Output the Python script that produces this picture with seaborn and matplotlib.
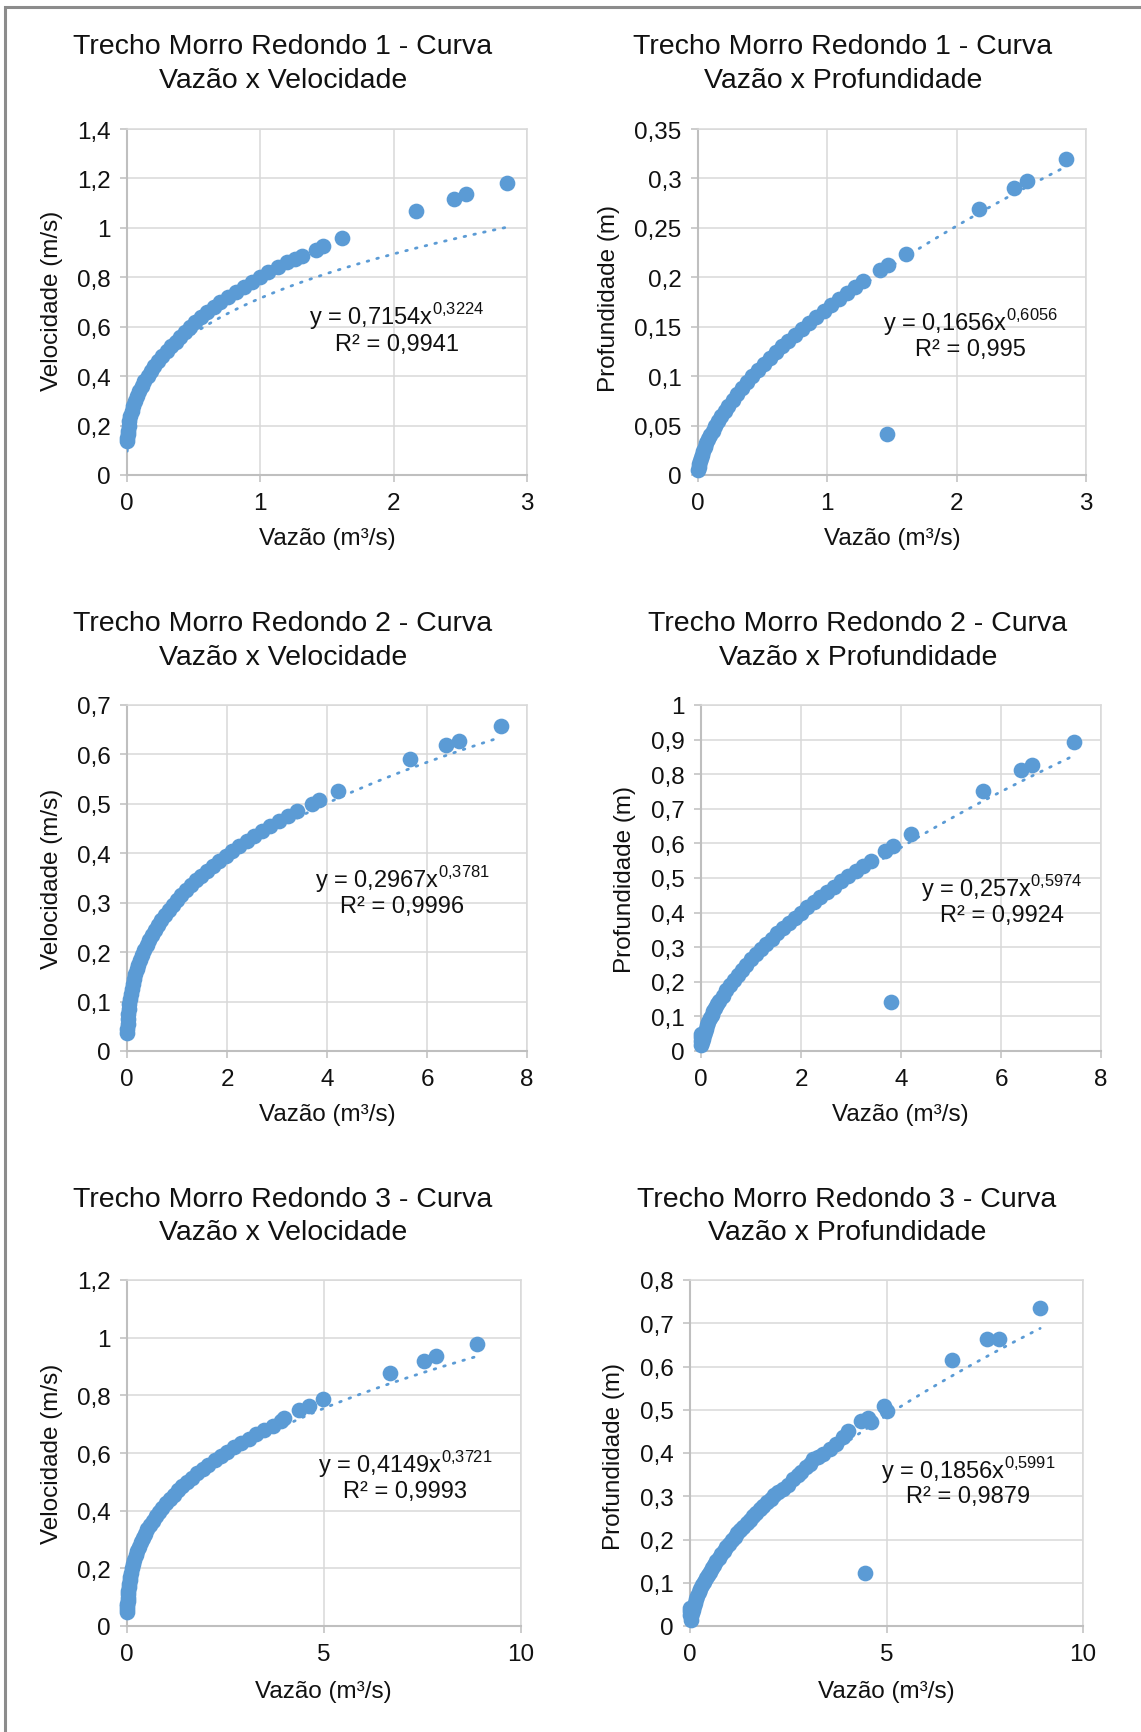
import numpy as np
import seaborn as sns
import matplotlib.pyplot as plt
from matplotlib.patches import Rectangle

# figure size in pixels
W, H = 1141, 1733

# ---- Trecho 1: vazao x velocidade
q1_vel = [0.002, 0.003, 0.005, 0.007, 0.012, 0.018, 0.026, 0.035, 0.047, 0.060,
          0.075, 0.091, 0.11, 0.13, 0.155, 0.18, 0.205, 0.235, 0.265, 0.30,
          0.33, 0.365, 0.40, 0.435, 0.47, 0.51, 0.555, 0.60, 0.65, 0.70,
          0.76, 0.82, 0.88, 0.94, 1.00, 1.06, 1.13, 1.20, 1.26, 1.31,
          1.42, 1.47, 1.61, 2.17, 2.45, 2.545, 2.85]
v1 = [0.138, 0.15, 0.165, 0.18, 0.20, 0.22, 0.24, 0.26, 0.28, 0.30,
      0.32, 0.34, 0.36, 0.38, 0.40, 0.42, 0.44, 0.46, 0.48, 0.50,
      0.52, 0.54, 0.56, 0.58, 0.60, 0.62, 0.64, 0.66, 0.68, 0.70,
      0.72, 0.74, 0.76, 0.78, 0.80, 0.82, 0.84, 0.86, 0.875, 0.885,
      0.91, 0.927, 0.957, 1.07, 1.118, 1.136, 1.183]

# ---- Trecho 1: vazao x profundidade
q1_prof = [0.003, 0.0065, 0.011, 0.016, 0.023, 0.030, 0.040, 0.051, 0.064, 0.078,
           0.093, 0.113, 0.134, 0.157, 0.181, 0.207, 0.233, 0.268, 0.303, 0.341,
           0.380, 0.421, 0.463, 0.507, 0.553, 0.600, 0.649, 0.699, 0.751, 0.804,
           0.859, 0.915, 0.972, 1.031, 1.091, 1.152, 1.215, 1.279, 1.41, 1.47,
           1.61, 2.17, 2.44, 2.54, 2.845, 1.46]
h1 = [0.005, 0.008, 0.011, 0.014, 0.017, 0.020, 0.024, 0.028, 0.032, 0.036,
      0.040, 0.045, 0.050, 0.055, 0.060, 0.065, 0.070, 0.076, 0.082, 0.088,
      0.094, 0.100, 0.106, 0.112, 0.118, 0.124, 0.130, 0.136, 0.142, 0.148,
      0.154, 0.160, 0.166, 0.172, 0.178, 0.184, 0.190, 0.196, 0.207, 0.212,
      0.224, 0.269, 0.290, 0.297, 0.320, 0.041]

# ---- Trecho 2: vazao x velocidade
q2_vel = [0.0038, 0.0063, 0.0107, 0.0167, 0.0243, 0.0339, 0.0455, 0.0593, 0.0754, 0.094,
          0.115, 0.139, 0.166, 0.196, 0.229, 0.265, 0.305, 0.348, 0.394, 0.445,
          0.499, 0.557, 0.620, 0.686, 0.757, 0.831, 0.911, 0.995, 1.083, 1.177,
          1.275, 1.378, 1.486, 1.600, 1.718, 1.842, 1.971, 2.106, 2.246, 2.392,
          2.544, 2.702, 2.866, 3.035, 3.211, 3.393, 3.70, 3.84, 4.21, 5.65,
          6.38, 6.63, 7.48]
v2 = [0.037, 0.045, 0.055, 0.065, 0.075, 0.085, 0.095, 0.105, 0.115, 0.125,
      0.135, 0.145, 0.155, 0.165, 0.175, 0.185, 0.195, 0.205, 0.215, 0.225,
      0.235, 0.245, 0.255, 0.265, 0.275, 0.285, 0.295, 0.305, 0.315, 0.325,
      0.335, 0.345, 0.355, 0.365, 0.375, 0.385, 0.395, 0.405, 0.415, 0.425,
      0.435, 0.445, 0.455, 0.465, 0.475, 0.485, 0.500, 0.508, 0.527, 0.590,
      0.620, 0.628, 0.657]

# ---- Trecho 2: vazao x profundidade
q2_prof = [0.002, 0.003, 0.004, 0.0091, 0.0192, 0.0338, 0.0515, 0.072, 0.0953, 0.121,
           0.149, 0.180, 0.213, 0.248, 0.285, 0.324, 0.365, 0.4305, 0.500, 0.574,
           0.652, 0.734, 0.819, 0.909, 1.002, 1.099, 1.199, 1.303, 1.410, 1.521,
           1.634, 1.752, 1.873, 1.996, 2.123, 2.253, 2.386, 2.522, 2.662, 2.804,
           2.949, 3.097, 3.248, 3.401, 3.67, 3.84, 4.20, 5.64, 6.39, 6.62,
           7.45, 3.80]
h2 = [0.030, 0.040, 0.048, 0.016, 0.025, 0.035, 0.045, 0.055, 0.065, 0.075,
      0.085, 0.095, 0.105, 0.115, 0.125, 0.135, 0.145, 0.160, 0.175, 0.190,
      0.205, 0.220, 0.235, 0.250, 0.265, 0.280, 0.295, 0.310, 0.325, 0.340,
      0.355, 0.370, 0.385, 0.400, 0.415, 0.430, 0.445, 0.460, 0.475, 0.490,
      0.505, 0.520, 0.535, 0.550, 0.578, 0.592, 0.626, 0.752, 0.811, 0.827,
      0.893, 0.142]

# ---- Trecho 3: vazao x velocidade
q3_vel = [0.0028, 0.0047, 0.0072, 0.0104, 0.0143, 0.0191, 0.0261, 0.0345, 0.0443, 0.0558,
          0.069, 0.084, 0.1054, 0.130, 0.158, 0.189, 0.2243, 0.2632, 0.306, 0.3529,
          0.4042, 0.4598, 0.520, 0.5848, 0.6547, 0.7297, 0.8096, 0.8949, 0.9856, 1.0819,
          1.1839, 1.2915, 1.4052, 1.5253, 1.6515, 1.784, 1.923, 2.068, 2.221, 2.380,
          2.546, 2.719, 2.899, 3.088, 3.283, 3.485, 3.696, 3.915, 3.98, 4.37,
          4.61, 4.98, 6.68, 7.53, 7.84, 8.89]
v3 = [0.048, 0.058, 0.068, 0.078, 0.088, 0.098, 0.110, 0.122, 0.134, 0.146,
      0.158, 0.170, 0.185, 0.200, 0.215, 0.230, 0.245, 0.260, 0.275, 0.290,
      0.305, 0.320, 0.335, 0.350, 0.365, 0.380, 0.395, 0.410, 0.425, 0.440,
      0.455, 0.470, 0.485, 0.500, 0.515, 0.530, 0.545, 0.560, 0.575, 0.590,
      0.605, 0.620, 0.635, 0.650, 0.665, 0.680, 0.695, 0.710, 0.723, 0.748,
      0.764, 0.786, 0.877, 0.919, 0.935, 0.977]

# ---- Trecho 3: vazao x profundidade
q3_prof = [0.002, 0.003, 0.004, 0.0143, 0.0271, 0.0454, 0.0674, 0.0927, 0.1212, 0.1526,
           0.1869, 0.2238, 0.2635, 0.3056, 0.3504, 0.3974, 0.4468, 0.4985, 0.5524, 0.6086,
           0.6669, 0.7274, 0.7898, 0.8544, 0.921, 0.9896, 1.060, 1.1326, 1.2069, 1.2833,
           1.3611, 1.4414, 1.5229, 1.6067, 1.692, 1.779, 1.868, 1.958, 2.051, 2.145,
           2.240, 2.36, 2.50, 2.62, 2.75, 2.83, 2.96, 3.05, 3.13, 3.25,
           3.38, 3.55, 3.72, 3.89, 4.01, 4.35, 4.52, 4.60, 4.94, 5.00,
           6.67, 7.55, 7.87, 8.91, 4.45]
h3 = [0.025, 0.035, 0.042, 0.015, 0.022, 0.030, 0.038, 0.046, 0.054, 0.062,
      0.070, 0.078, 0.086, 0.094, 0.102, 0.110, 0.118, 0.126, 0.134, 0.142,
      0.150, 0.158, 0.166, 0.174, 0.182, 0.190, 0.198, 0.206, 0.214, 0.222,
      0.230, 0.238, 0.246, 0.254, 0.262, 0.270, 0.278, 0.286, 0.294, 0.302,
      0.310, 0.316, 0.327, 0.340, 0.350, 0.355, 0.367, 0.375, 0.386, 0.390,
      0.397, 0.409, 0.421, 0.436, 0.451, 0.475, 0.482, 0.471, 0.509, 0.498,
      0.615, 0.663, 0.663, 0.736, 0.122]

# power trendline coefficients (y = a * x^b) and R2 as shown
fit_a = [0.7154, 0.1656, 0.2967, 0.257, 0.4149, 0.1856]
fit_b = [0.3224, 0.6056, 0.3781, 0.5974, 0.3721, 0.5991]
eq_a = ['0,7154', '0,1656', '0,2967', '0,257', '0,4149', '0,1856']
eq_b = ['0,3224', '0,6056', '0,3781', '0,5974', '0,3721', '0,5991']
eq_r2 = ['0,9941', '0,995', '0,9996', '0,9924', '0,9993', '0,9879']

titles = ['Trecho Morro Redondo 1 - Curva', 'Trecho Morro Redondo 1 - Curva',
          'Trecho Morro Redondo 2 - Curva', 'Trecho Morro Redondo 2 - Curva',
          'Trecho Morro Redondo 3 - Curva', 'Trecho Morro Redondo 3 - Curva']
subtitles = ['Vazão x Velocidade', 'Vazão x Profundidade'] * 3
ylabels = ['Velocidade (m/s)', 'Profundidade (m)'] * 3
xlabel = 'Vazão (m³/s)'

xticks_1 = [0, 1, 2, 3]
xticks_2 = [0, 2, 4, 6, 8]
xticks_3 = [0, 5, 10]
yt_v1 = [0, 0.2, 0.4, 0.6, 0.8, 1.0, 1.2, 1.4]
yl_v1 = ['0', '0,2', '0,4', '0,6', '0,8', '1', '1,2', '1,4']
yt_h1 = [0, 0.05, 0.1, 0.15, 0.2, 0.25, 0.3, 0.35]
yl_h1 = ['0', '0,05', '0,1', '0,15', '0,2', '0,25', '0,3', '0,35']
yt_v2 = [0, 0.1, 0.2, 0.3, 0.4, 0.5, 0.6, 0.7]
yl_v2 = ['0', '0,1', '0,2', '0,3', '0,4', '0,5', '0,6', '0,7']
yt_h2 = [0, 0.1, 0.2, 0.3, 0.4, 0.5, 0.6, 0.7, 0.8, 0.9, 1.0]
yl_h2 = ['0', '0,1', '0,2', '0,3', '0,4', '0,5', '0,6', '0,7', '0,8', '0,9', '1']
yt_v3 = [0, 0.2, 0.4, 0.6, 0.8, 1.0, 1.2]
yl_v3 = ['0', '0,2', '0,4', '0,6', '0,8', '1', '1,2']
yt_h3 = [0, 0.1, 0.2, 0.3, 0.4, 0.5, 0.6, 0.7, 0.8]
yl_h3 = ['0', '0,1', '0,2', '0,3', '0,4', '0,5', '0,6', '0,7', '0,8']

sns.set_style('white')
plt.rcParams['font.family'] = ['Liberation Sans', 'DejaVu Sans']
plt.rcParams['mathtext.fontset'] = 'custom'
plt.rcParams['mathtext.rm'] = 'Liberation Sans'

BLUE = '#5B9BD5'
GRID = '#D9D9D9'
AXIS = '#BFBFBF'
TXT = '#111111'

fig = plt.figure(figsize=(W / 100, H / 100), dpi=100)
fx = lambda x: x / W
fy = lambda y: 1 - y / H

panels = [
    # data, ticks, plot box px (x0, y0, x1, y1), title xc, title rows, eq (x, y1, y2), xlabel (x,y), ylabel (x,y)
    (q1_vel, v1, xticks_1, yt_v1, yl_v1, (127, 130, 527, 476), 283, (47.5, 80.7), (397, 317, 345), (327, 539), (52, 301)),
    (q1_prof, h1, xticks_1, yt_h1, yl_h1, (698, 130, 1086, 476), 843, (47.5, 80.7), (970, 323, 350), (892, 539), (609, 298)),
    (q2_vel, v2, xticks_2, yt_v2, yl_v2, (127, 706, 527, 1052), 283, (624, 657.6), (402, 880, 907), (327, 1115), (52, 879)),
    (q2_prof, h2, xticks_2, yt_h2, yl_h2, (701, 706, 1101, 1052), 858, (624, 657.6), (1002, 889, 916), (900, 1115), (625, 880)),
    (q3_vel, v3, xticks_3, yt_v3, yl_v3, (127, 1281, 521, 1627), 283, (1200, 1233.4), (405, 1465, 1492), (323, 1692), (52, 1454)),
    (q3_prof, h3, xticks_3, yt_h3, yl_h3, (690, 1281, 1083, 1627), 847, (1200, 1233.4), (968, 1471, 1497), (886, 1692), (614, 1456)),
]

for i, (q, y, xt, yt, yl, box, tx, trows, eq, xlp, ylp) in enumerate(panels):
    x0, y0, x1, y1 = box
    ax = fig.add_axes([fx(x0), fy(y1), (x1 - x0) / W, (y1 - y0) / H])

    sns.scatterplot(x=q, y=y, ax=ax, color=BLUE, s=128, linewidth=0,
                    clip_on=False, zorder=3)
    xs = np.geomspace(min(q), max(q), 400)
    sns.lineplot(x=xs, y=fit_a[i] * xs ** fit_b[i], ax=ax, color=BLUE, lw=2.0,
                 linestyle=(0, (0.6, 3.0)), dash_capstyle='round',
                 sort=False, estimator=None, zorder=4)

    ax.set_xlim(xt[0], xt[-1])
    ax.set_ylim(yt[0], yt[-1])
    ax.set_xticks(xt)
    ax.set_xticklabels([str(v) for v in xt])
    ax.set_yticks(yt)
    ax.set_yticklabels(yl)
    ax.grid(True, color=GRID, lw=1.1)
    ax.set_axisbelow(True)
    for s in ['left', 'bottom']:
        ax.spines[s].set_color(AXIS)
        ax.spines[s].set_linewidth(1.5)
    for s in ['top', 'right']:
        ax.spines[s].set_color(GRID)
        ax.spines[s].set_linewidth(1.1)
    ax.tick_params(bottom=True, left=True, direction='out', length=5, width=1.1,
                   color=AXIS, labelsize=17.5, labelcolor=TXT, pad=7)

    ax.set_xlabel(xlabel, fontsize=17.5, color=TXT, va='center')
    ax.xaxis.set_label_coords(fx(xlp[0]), fy(xlp[1]), transform=fig.transFigure)
    ax.set_ylabel(ylabels[i], fontsize=17.5, color=TXT, va='center')
    ax.yaxis.set_label_coords(fx(ylp[0]), fy(ylp[1]), transform=fig.transFigure)

    fig.text(fx(tx), fy(trows[0]), titles[i], fontsize=20.5, color=TXT,
             ha='center', va='center')
    fig.text(fx(tx), fy(trows[1]), subtitles[i], fontsize=20.5, color=TXT,
             ha='center', va='center')

    fig.text(fx(eq[0]), fy(eq[1]),
             'y = ' + eq_a[i] + 'x$^{\\mathregular{' + eq_b[i].replace(',', '{,}') + '}}$',
             fontsize=17, color=TXT, ha='center', va='center')
    fig.text(fx(eq[0]), fy(eq[2]), 'R² = ' + eq_r2[i], fontsize=17, color=TXT,
             ha='center', va='center')

# outer chart frame (only top and left edges visible in the crop)
fig.add_artist(Rectangle((fx(5), -0.05), 1.2, fy(8) + 0.05, transform=fig.transFigure,
                         fill=False, edgecolor='#8c8c8c', lw=2.2))

fig.savefig('out.png', dpi=100)
